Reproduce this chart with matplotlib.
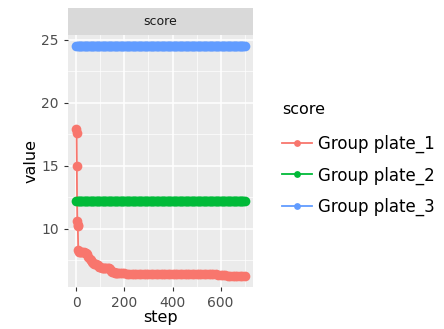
import numpy as np
import matplotlib.pyplot as plt

# data
steps_1 = [0, 1, 2, 3, 4, 5, 6, 8, 10, 15, 20, 25, 30, 35, 40, 45, 50, 55, 60, 65, 70,
           75, 80, 85, 90, 95, 100, 105, 110, 115, 120, 125, 130, 135, 140, 145, 150,
           155, 160, 165, 170, 175, 180, 190, 200, 210, 220, 230, 240, 250, 260, 270,
           280, 290, 300, 310, 320, 330, 340, 350, 360, 370, 380, 390, 400, 410, 420,
           430, 440, 450, 460, 470, 480, 490, 500, 510, 520, 530, 540, 550, 560, 570,
           580, 590, 600, 610, 620, 630, 640, 650, 660, 670, 680, 690, 700]
vals_1 = [17.9, 17.6, 15.0, 12.2, 10.6, 10.3, 10.2, 8.3, 8.2, 8.2, 8.2, 8.2, 8.2, 8.1,
          8.1, 8.0, 7.8, 7.6, 7.5, 7.4, 7.3, 7.2, 7.2, 7.1, 7.1, 7.0, 7.0, 6.9, 6.9,
          6.9, 6.9, 6.9, 6.9, 6.9, 6.8, 6.7, 6.6, 6.6, 6.5, 6.5, 6.5, 6.5, 6.5, 6.5,
          6.5, 6.45, 6.45, 6.4, 6.4, 6.4, 6.4, 6.4, 6.4, 6.4, 6.4, 6.4, 6.4, 6.4, 6.4,
          6.4, 6.4, 6.4, 6.4, 6.4, 6.4, 6.4, 6.4, 6.4, 6.4, 6.4, 6.4, 6.4, 6.4, 6.4,
          6.4, 6.4, 6.4, 6.4, 6.4, 6.4, 6.4, 6.4, 6.4, 6.35, 6.35, 6.35, 6.35, 6.3,
          6.3, 6.3, 6.3, 6.3, 6.3, 6.3, 6.3]
steps_23 = list(range(0, 701, 5))
vals_2 = [12.2] * len(steps_23)
vals_3 = [24.5] * len(steps_23)

labels = ["Group plate_1", "Group plate_2", "Group plate_3"]
colors = ["#F8766D", "#00BA38", "#619CFF"]

fig = plt.figure(figsize=(4.44, 3.29), dpi=100)
ax = fig.add_axes([0.153, 0.128, 0.417, 0.766])
ax.set_facecolor("#EBEBEB")

ax.plot(steps_1, vals_1, color=colors[0], lw=1.3, marker="o", ms=7, mew=0, label=labels[0], zorder=3)
ax.plot(steps_23, vals_2, color=colors[1], lw=1.3, marker="o", ms=7, mew=0, label=labels[1], zorder=3)
ax.plot(steps_23, vals_3, color=colors[2], lw=1.3, marker="o", ms=7, mew=0, label=labels[2], zorder=3)

ax.set_xlim(-35, 735)
ax.set_ylim(5.4, 25.4)
ax.set_xticks([0, 200, 400, 600])
ax.set_yticks([10, 15, 20, 25])
ax.set_xticks([100, 300, 500, 700], minor=True)
ax.set_yticks([7.5, 12.5, 17.5, 22.5], minor=True)
ax.grid(True, which="major", color="white", lw=1.1)
ax.grid(True, which="minor", color="white", lw=0.5)
ax.set_axisbelow(True)
for s in ax.spines.values():
    s.set_visible(False)
ax.tick_params(which="major", length=3, color="#333333", labelsize=10, labelcolor="#4D4D4D", width=0.8)
ax.tick_params(which="minor", length=0)
ax.set_xlabel("step", fontsize=11.5, labelpad=0)
ax.set_ylabel("value", fontsize=11.5, labelpad=2)

# facet strip
strip = fig.add_axes([0.153, 0.894, 0.417, 0.082])
strip.set_facecolor("#D9D9D9")
strip.set_xticks([])
strip.set_yticks([])
for s in strip.spines.values():
    s.set_visible(False)
strip.text(0.5, 0.5, "score", ha="center", va="center", fontsize=9, color="#1A1A1A")

leg = ax.legend(loc="upper left", bbox_to_anchor=(0.635, 0.69), bbox_transform=fig.transFigure,
                frameon=False, title="score", fontsize=12, title_fontsize=11.5,
                handlelength=1.8, handletextpad=0.35, labelspacing=0.78, borderaxespad=0,
                markerscale=0.7, borderpad=0)
leg._legend_box.align = "left"
leg._legend_box.sep = 13

fig.savefig("out.png", dpi=100)
